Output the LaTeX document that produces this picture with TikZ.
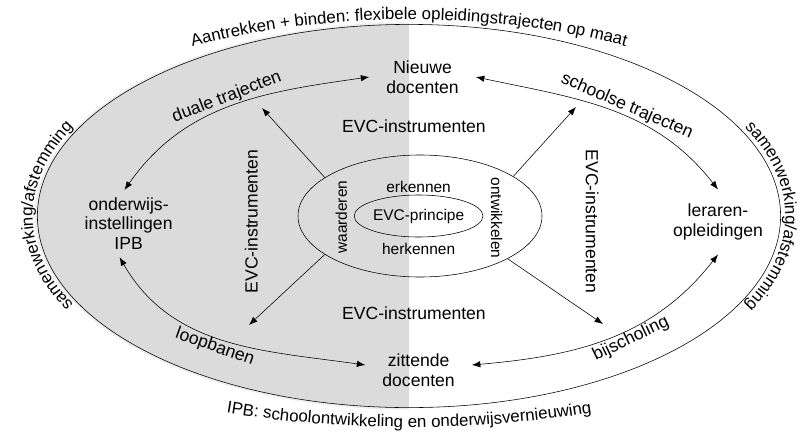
\documentclass[tikz,border=0pt]{standalone}
\usepackage{fontspec}
\setmainfont{Liberation Sans}
\usepackage{tikz}
\usetikzlibrary{positioning}
\usetikzlibrary{shapes,decorations.text,calc,arrows.meta}
\definecolor{halfgrey}{gray}{0.86}
\newcommand{\bigtxt}{\fontsize{12.5}{14.2}\selectfont}
\newcommand{\smalltxt}{\fontsize{11}{13}\selectfont}
\newcommand{\rimtxt}{\fontsize{12}{14}\selectfont}
\tikzset{
	>={Latex[length=6pt,width=4.5pt]},
	semithick,
	blok/.style = {align=center, font=\bigtxt, inner xsep=12pt, inner ysep=4pt},
	evc/.style = {font=\bigtxt, inner sep=0pt},
	lbl/.style = {font=\smalltxt, inner sep=1pt},
	ring/.style = {ellipse, draw, inner sep=0pt},
	rim/.style = {decorate, decoration={text along path, text align=center,
		text={|\rimtxt|#1}}},
	bend lbl/.style = {font=\bigtxt, sloped, inner sep=1pt},
}
\begin{document}
\begin{tikzpicture}
	\useasboundingbox (-10.225,-5.5) rectangle (9.8,5.4);
	% grey left half
	\fill[halfgrey!50] (0,-4.84) arc[start angle=270, end angle=90, x radius=9.36, y radius=4.84] -- cycle;
	\fill[halfgrey] (0,-4.79) arc[start angle=270, end angle=90, x radius=9.29, y radius=4.79] -- cycle;
	\draw[thin] (0,0) ellipse [x radius=9.29, y radius=4.79];
	% texts round the rim
	\path[rim={Aantrekken + binden: flexibele opleidingstrajecten op maat}]
		(160:10.75 and 4.91) arc[start angle=160, end angle=20, x radius=10.75, y radius=4.91];
	\path[rim={samenwerking/afstemming}]
		(235:9.41 and 4.91) arc[start angle=235, end angle=125, x radius=9.41, y radius=4.91];
	\path[rim={samenwerking/afstemming}]
		(55:9.41 and 4.91) arc[start angle=55, end angle=-55, x radius=9.41, y radius=4.91];
	\path[rim={IPB: schoolontwikkeling en onderwijsvernieuwing}]
		(235:12.5 and 5.28) arc[start angle=235, end angle=305, x radius=12.5, y radius=5.28];

	\node (nieuwe) [blok] at (0.34,3.475) {Nieuwe\\docenten};
	\node (zittende) [blok] at (0.24,-3.865) {zittende\\docenten};
	\node (ond) [blok, inner xsep=4pt, inner ysep=5pt] at (-7.01,-0.19) {onderwijs-\\instellingen\\IPB};
	\node (leraren) [blok, inner ysep=10pt] at (7.725,-0.15) {leraren-\\opleidingen};

	\node (evcboven) [evc] at (0.125,2.235) {EVC-instrumenten};
	\node (evconder) [evc] at (0.125,-2.43) {EVC-instrumenten};
	\node (evclinks) [evc, rotate=90] at (-3.94,-0.14) {EVC-instrumenten};
	\node (evcrechts) [evc, rotate=-90] at (4.58,-0.14) {EVC-instrumenten};

	\node (kern) [ring, minimum width=6.1cm, minimum height=3.05cm] at (0.275,0) {};
	\node (principe) [ring, font=\smalltxt, minimum width=2.78cm, minimum height=1.05cm] at (0.24,0) {EVC-principe};
	\node (erkennen) [lbl, above=0pt of principe] {erkennen};
	\node (herkennen) [lbl, below=0.1cm of principe] {herkennen};
	\node (waarderen) [lbl, rotate=90] at (-1.69,-0.03) {waarderen};
	\node (ontwikkelen) [lbl, rotate=-90] at (2.19,-0.05) {ontwikkelen};

	\coordinate (linksboven) at (-3.675,2.7);
	\coordinate (rechtsboven) at (4.175,2.725);
	\coordinate (linksonder) at (-4.0,-2.725);
	\coordinate (rechtsonder) at (4.85,-2.7);
	\draw[->] (kern.158) -- (linksboven);
	\draw[->] (kern.23) -- (rechtsboven);
	\draw[->] (kern.202) -- (linksonder);
	\draw[->] (kern.-26) -- (rechtsonder);

	\draw[<->] (ond.97) to[out=55, in=188] node[bend lbl, above, pos=0.5] {duale trajecten} (nieuwe.west);
	\draw[<->] (nieuwe.east) to[out=-12, in=128] node[bend lbl, above, pos=0.55] {schoolse trajecten} (leraren.north);
	\draw[<->] (ond.255) to[out=-60, in=172] node[bend lbl, below, pos=0.48] {loopbanen} (zittende.174);
	\draw[<->] (zittende.6) to[out=5, in=232] node[bend lbl, below, pos=0.57] {bijscholing} (leraren.south);
\end{tikzpicture}
\end{document}
